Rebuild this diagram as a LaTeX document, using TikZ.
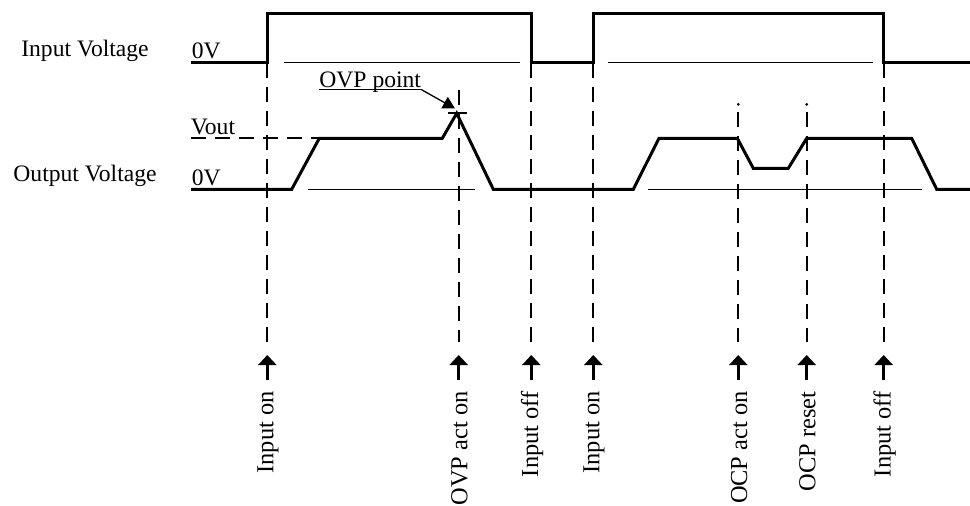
\documentclass[tikz,border=0pt]{standalone}
\usepackage{fontspec}
\setmainfont{Liberation Serif}
\usetikzlibrary{arrows.meta}
\begin{document}
\begin{tikzpicture}[x=0.5pt,y=-0.5pt,
  sig/.style={line width=1.5pt, line join=miter},
  refline/.style={line width=0.65pt},
  guide/.style={line width=0.9pt, dash pattern=on 7.5pt off 4.5pt},
  evarrow/.style={line width=1.4pt, -{Triangle[width=9pt,length=5pt]}},
  lbl/.style={font=\fontsize{11.8}{14}\selectfont, inner sep=0pt},
  evlbl/.style={font=\fontsize{12.2}{14}\selectfont, inner sep=0pt, rotate=90, anchor=east}]
\useasboundingbox (0,0) rectangle (970,505);

% row labels
\node[lbl, anchor=base] (inv) at (85,56) {Input Voltage};
\node[lbl, anchor=base] (outv) at (85,181) {Output Voltage};
\node[lbl, anchor=base west] (zin) at (191.5,58) {0V};
\node[lbl, anchor=base west] (zout) at (191.5,185.5) {0V};
\node[lbl, anchor=base west] (vout) at (190.5,134.5) {Vout};

% input voltage waveform
\draw[sig] (191,62.5) -- (267.3,62.5) -- (267.3,13) -- (531.3,13) -- (531.3,62.5)
  -- (593.3,62.5) -- (593.3,13) -- (883.7,13) -- (883.7,62.5) -- (970,62.5);
\draw[refline] (284,62.5) -- (520,62.5);
\draw[refline] (608,62.5) -- (873,62.5);

% output voltage waveform
\draw[sig] (191,189.3) -- (291.7,189.3) -- (319.3,138.3) -- (442.3,138.3) -- (456.7,113.3)
  -- (493.3,189.3) -- (633.3,189.3) -- (659,138.3) -- (737.3,138.3) -- (753.3,168.3)
  -- (788.3,168.3) -- (806.7,138.3) -- (911.7,138.3) -- (936.7,189.3) -- (970,189.3);
\draw[refline] (307.7,189.3) -- (475,189.3);
\draw[refline] (648.3,189.3) -- (921.7,189.3);

% Vout reference
\coordinate (vl) at (191,138.3);
\coordinate (vr) at (318,138.3);
\draw[guide] (vl) -- (vr);

% OVP point
\coordinate (tickl) at (448.3,113.3);
\coordinate (tickr) at (467.3,113.3);
\draw[line width=0.9pt] (tickl) -- (tickr);
\node[lbl, anchor=base west] (ovp) at (319,87) {OVP point};
\coordinate (ulw) at (319,89.8);
\coordinate (ule) at (421.7,89.8);
\coordinate (peak) at (455,108.5);
\draw[refline] (ulw) -- (ule);
\draw[refline, -{Triangle[width=6.5pt,length=6pt]}] (ule) -- (peak);

% event markers
\foreach \n/\x/\t/\txt in {a/267.3/62.5/Input on, b/458.7/90/OVP act on, c/531.3/62.5/Input off,
    d/593.3/62.5/Input on, e/738.3/112/OCP act on, f/806.7/112/OCP reset, g/883.7/62.5/Input off}{
  \coordinate (top\n) at (\x,\t);
  \coordinate (bot\n) at (\x,341.7);
  \coordinate (as\n) at (\x,380);
  \coordinate (at\n) at (\x,355);
  \draw[guide] (top\n) -- (bot\n);
  \draw[evarrow] (as\n) -- (at\n);
  \node[evlbl] (l\n) at (\x+0.8,391) {\txt};
}
\fill (738.3,104.3) circle (0.75pt);
\fill (806.7,104.3) circle (0.75pt);

\end{tikzpicture}
\end{document}
